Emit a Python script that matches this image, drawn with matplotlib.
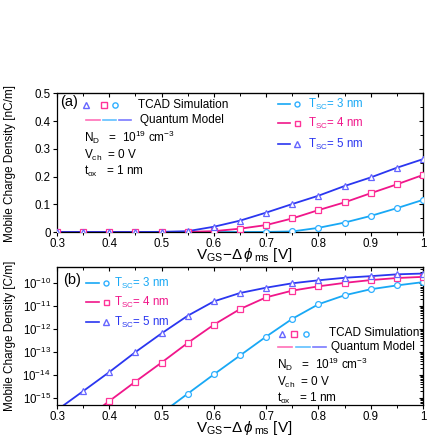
import matplotlib
matplotlib.use("Agg")
import matplotlib.pyplot as plt
from matplotlib.ticker import MultipleLocator, LogLocator, NullFormatter, FixedLocator

plt.rcParams['font.family'] = ['Liberation Sans', 'DejaVu Sans']
plt.rcParams['mathtext.fontset'] = 'custom'
plt.rcParams['mathtext.rm'] = 'Liberation Sans'
plt.rcParams['mathtext.it'] = 'Liberation Sans:italic'
plt.rcParams['mathtext.bf'] = 'Liberation Sans:bold'

# gate voltage grid (V_GS - delta phi_ms)
vgs = [0.30, 0.35, 0.40, 0.45, 0.50, 0.55, 0.60, 0.65,
       0.70, 0.75, 0.80, 0.85, 0.90, 0.95, 1.00]

# panel (a): linear charge density [nC/m]
qa_3nm = [0, 0, 0, 0, 0, 0, 0, 0, 0.0003, 0.002, 0.015, 0.034, 0.058, 0.086, 0.116]
qa_4nm = [0, 0, 0, 0, 0, 0.0005, 0.003, 0.012, 0.025, 0.049, 0.079, 0.107, 0.140, 0.172, 0.206]
qa_5nm = [0, 0, 0, 0, 0.0005, 0.003, 0.019, 0.041, 0.070, 0.101, 0.131, 0.166, 0.197, 0.232, 0.263]

# panel (b): log charge density [C/m]
qb_3nm = [1e-18, 3e-18, 8e-18, 3e-17, 2.2e-16, 1.55e-15, 1.07e-14, 7.1e-14,
          4.7e-13, 2.8e-12, 1.2e-11, 2.95e-11, 5.4e-11, 7.9e-11, 1.1e-10]
qb_4nm = [1.6e-17, 1.05e-16, 7.4e-16, 5.2e-15, 3.5e-14, 2.5e-13, 1.55e-12, 7.4e-12,
          2.4e-11, 4.7e-11, 7.2e-11, 1.02e-10, 1.35e-10, 1.66e-10, 1.86e-10]
qb_5nm = [3e-16, 2.0e-15, 1.35e-14, 1.0e-13, 6.5e-13, 3.8e-12, 1.6e-11, 3.7e-11,
          6.3e-11, 9.8e-11, 1.32e-10, 1.7e-10, 2.0e-10, 2.4e-10, 2.6e-10]

labels = ['T$_{\\rm SC}$= 3 nm', 'T$_{\\rm SC}$= 4 nm', 'T$_{\\rm SC}$= 5 nm']
line_cols = ['#18a8f5', '#f0168a', '#2a36f0']
mark_cols = ['#30b0ff', '#ff3399', '#6565ff']
dash_cols = ['#ff70b8', '#60c0ff', '#7a7aff']
markers = ['o', 's', '^']
msizes = [4.2, 4.2, 4.6]

W = 436.0
fig = plt.figure(figsize=(4.36, 4.36), dpi=100)
ax_a = fig.add_axes([57 / W, 1 - 232 / W, 366 / W, 138.5 / W])
ax_b = fig.add_axes([57 / W, 1 - 405 / W, 366 / W, 138 / W])


def fx(px):
    return px / W


def fy(py):
    return 1 - py / W


def ftext(px, py, s, **kw):
    kw.setdefault('fontsize', 8.5)
    kw.setdefault('va', 'center')
    fig.text(fx(px), fy(py), s, **kw)


def fseg(x0, x1, py, color, lw=1.2):
    fig.add_artist(plt.Line2D([fx(x0), fx(x1)], [fy(py), fy(py)],
                              transform=fig.transFigure, color=color, lw=lw))


def fmark(px, py, marker, color, ms):
    fig.add_artist(plt.Line2D([fx(px)], [fy(py)], transform=fig.transFigure,
                              marker=marker, ms=ms, mfc='white', mec=color,
                              mew=1.0, ls='none'))


for ax, series in ((ax_a, (qa_3nm, qa_4nm, qa_5nm)), (ax_b, (qb_3nm, qb_4nm, qb_5nm))):
    for i, q in enumerate(series):
        ax.plot(vgs, q, color=line_cols[i], lw=1.3, zorder=2)
        ax.plot(vgs, q, ls='none', marker=markers[i], ms=msizes[i], mfc='white',
                mec=mark_cols[i], mew=0.9, zorder=3)

# axes (a)
ax_a.set_xlim(0.3, 1.0)
ax_a.set_ylim(0, 0.5)
ax_a.yaxis.set_major_locator(MultipleLocator(0.1))
ax_a.yaxis.set_major_formatter(plt.FuncFormatter(lambda v, _: '0' if abs(v) < 1e-9 else f'{v:.1f}'))

# axes (b)
ax_b.set_yscale('log')
ax_b.set_xlim(0.3, 1.0)
ax_b.set_ylim(5e-16, 5e-10)
ax_b.yaxis.set_major_locator(LogLocator(base=10, numticks=20))
ax_b.yaxis.set_minor_locator(FixedLocator([]))
ax_b.yaxis.set_minor_formatter(NullFormatter())

for ax in (ax_a, ax_b):
    ax.xaxis.set_major_locator(MultipleLocator(0.1))
    ax.xaxis.set_minor_locator(MultipleLocator(0.05))
    ax.xaxis.set_major_formatter(plt.FuncFormatter(lambda v, _: '1' if abs(v - 1) < 1e-9 else f'{v:.1f}'))
    ax.tick_params(which='major', direction='out', length=3, width=0.8, labelsize=8.3, pad=1.5)
    ax.tick_params(which='minor', direction='out', length=2, width=0.7)
    for sp in ax.spines.values():
        sp.set_linewidth(0.9)
    top = ax.secondary_xaxis('top')
    top.xaxis.set_major_locator(MultipleLocator(0.1))
    top.xaxis.set_minor_locator(MultipleLocator(0.05))
    top.tick_params(which='major', direction='in', length=3, width=0.8, labeltop=False)
    top.tick_params(which='minor', direction='in', length=2, width=0.7)
    right = ax.secondary_yaxis('right')
    if ax is ax_a:
        right.yaxis.set_major_locator(MultipleLocator(0.1))
        right.yaxis.set_minor_locator(MultipleLocator(0.05))
    else:
        right.yaxis.set_major_locator(LogLocator(base=10, numticks=20))
        right.yaxis.set_minor_locator(LogLocator(base=10, subs=range(2, 10), numticks=20))
        right.yaxis.set_minor_formatter(NullFormatter())
    right.tick_params(which='major', direction='in', length=3, width=0.8, labelright=False)
    right.tick_params(which='minor', direction='in', length=2, width=0.7)

# axis labels
xlab = 'V$_{\\rm GS}$$-\\Delta\\,\\phi\\,_{\\rm ms}$ [V]'
ftext(244, 259.5, xlab, fontsize=11, ha='center', va='baseline')
ftext(244, 432, xlab, fontsize=11, ha='center', va='baseline')
ftext(10, 163, 'Mobile Charge Density [nC/m]', fontsize=8.5, ha='center', rotation=90)
ftext(10, 336, 'Mobile Charge Density [C/m]', fontsize=8.5, ha='center', rotation=90)

# panel (a) annotations
ftext(60, 102, '(a)', fontsize=10.5)
for px, i in ((86, 2), (104, 1), (115, 0)):
    fmark(px, 105.5, markers[i], mark_cols[i], msizes[i] - 0.4)
ftext(138, 105, 'TCAD Simulation')
for (x0, x1), c in zip(((86, 100), (103, 116), (119, 131)), dash_cols):
    fseg(x0, x1, 120, c)
ftext(140, 120, 'Quantum Model')
ftext(84, 137, 'N$_{\\rm D}$   =  10$^{19}$ cm$^{-3}$')
ftext(84, 155, 'V$_{\\rm ch}$  = 0 V')
ftext(84, 171, 't$_{\\rm ox}$   = 1 nm')

for i, py in enumerate((104, 123, 144)):
    fseg(278, 290, py, line_cols[i])
    fmark(297, py, markers[i], mark_cols[i], msizes[i] - 0.6)
    ftext(308, py, labels[i], color=line_cols[i], fontsize=8.3)

# panel (b) annotations
ftext(63, 280, '(b)', fontsize=10.5)
for i, py in enumerate((283, 302, 322)):
    fseg(86, 99, py, line_cols[i])
    fmark(106, py, markers[i], mark_cols[i], msizes[i] - 0.6)
    ftext(114, py, labels[i], color=line_cols[i], fontsize=8.3)

for px, i in ((282, 2), (294, 1), (306, 0)):
    fmark(px, 334, markers[i], mark_cols[i], msizes[i] - 0.4)
ftext(329, 333, 'TCAD Simulation')
for (x0, x1), c in zip(((278, 292), (296, 310), (313, 326)), dash_cols):
    fseg(x0, x1, 347, c)
ftext(331, 347, 'Quantum Model')
ftext(277, 364, 'N$_{\\rm D}$   =  10$^{19}$ cm$^{-3}$')
ftext(277, 382, 'V$_{\\rm ch}$  = 0 V')
ftext(277, 398, 't$_{\\rm ox}$   = 1 nm')

fig.savefig('out.png', dpi=100)
